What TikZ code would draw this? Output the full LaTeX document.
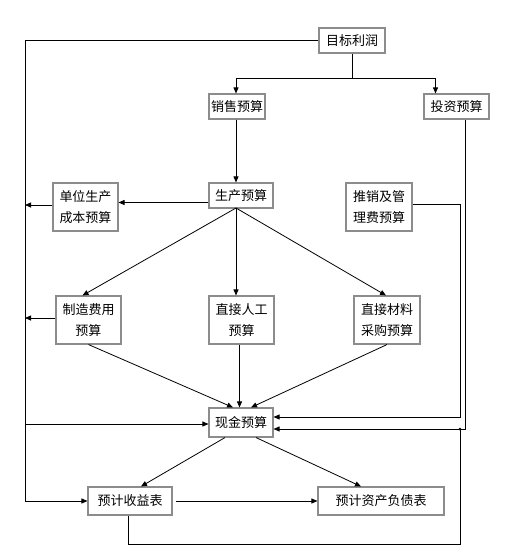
\documentclass[tikz,border=0pt]{standalone}
\usepackage{fontspec}
\newfontfamily\cjk{Noto Sans CJK SC}
\usetikzlibrary{arrows.meta,calc}
\begin{document}
\begin{tikzpicture}[x=1pt,y=-1pt,
 box/.style={draw=black!45,line width=1.1pt,fill=white,inner sep=0pt,font=\cjk\fontsize{13}{20.5}\selectfont,align=center},
 ln/.style={line width=0.8pt},
 arr/.style={ln,-{Triangle[length=6pt,width=5pt]}}]
\useasboundingbox[fill=white] (0,0) rectangle (510,560);
\node[box,minimum width=66pt,minimum height=25pt] (mb) at (352,40.5) {目标利润};
\node[box,minimum width=56pt,minimum height=25pt] (xs) at (237,106.5) {销售预算};
\node[box,minimum width=65pt,minimum height=25pt] (tz) at (456.5,106.5) {投资预算};
\node[box,minimum width=64pt,minimum height=25pt] (sc) at (241,195.5) {生产预算};
\node[box,minimum width=65pt,minimum height=48pt] (dw) at (85.5,207) {单位生产\\成本预算};
\node[box,minimum width=66pt,minimum height=48pt] (tx) at (379,207) {推销及管\\理费预算};
\node[box,minimum width=65pt,minimum height=48pt] (zz) at (88.5,320) {制造费用\\预算};
\node[box,minimum width=65pt,minimum height=48pt] (rg) at (241.5,320) {直接人工\\预算};
\node[box,minimum width=66pt,minimum height=48pt] (cl) at (387,320) {直接材料\\采购预算};
\node[box,minimum width=64pt,minimum height=29pt] (xj) at (241,422.5) {现金预算};
\node[box,minimum width=84pt,minimum height=28pt] (sy) at (130,501) {预计收益表};
\node[box,minimum width=126pt,minimum height=28pt] (zc) at (381,501) {预计资产负债表};
\coordinate (j1) at (352,78);
\coordinate (lx) at (25,0);
\coordinate (rx) at (460,0);
\coordinate (p) at (236,208);
% top
\draw[ln] (mb.south) -- (j1);
\draw[arr] (j1) -| ([xshift=-1pt]xs.north);
\draw[arr] (j1) -| ([xshift=-21pt]tz.north);
\draw[arr] (mb.west) -- (mb.west -| lx) |- (sy.west);
\draw[arr] ([xshift=-1pt]xs.south) -- ([xshift=-1pt]xs.south |- sc.north);
\draw[arr] ([yshift=-7pt]sc.west) -- ([yshift=-7pt]sc.west -| dw.east);
\draw[arr] ([yshift=2pt]dw.west) -- ([yshift=2pt]dw.west -| lx);
\draw[arr] ([yshift=2pt]zz.west) -- ([yshift=2pt]zz.west -| lx);
\draw[arr] ([yshift=-1.5pt]xj.west -| lx) -- ([yshift=-1.5pt]xj.west);
% production fan
\draw[arr] (p) -- ([xshift=-6pt]zz.north);
\draw[arr] (p) -- (p |- rg.north);
\draw[arr] (p) -- ([xshift=-1pt]cl.north);
% into cash
\draw[arr] (zz.south) -- ([xshift=-8pt]xj.north);
\draw[arr] ([xshift=-2pt]rg.south) -- ([xshift=-2pt]rg.south |- xj.north);
\draw[arr] (cl.south) -- ([xshift=10pt]xj.north);
% right side
\draw[arr] ([yshift=3pt]tx.east) -| ([yshift=5.5pt]xj.east -| rx) -- ([yshift=5.5pt]xj.east);
\draw[arr] ([xshift=8.5pt]tz.south) |- ([yshift=-6.5pt]xj.east);
\draw[ln] ([xshift=-2pt]sy.south) -- ++(0,29) -| ([yshift=-6.5pt]xj.east -| rx);
\fill ([yshift=-6.5pt]xj.east -| rx) circle (1.5pt);
% bottom
\draw[arr] ([xshift=-16pt]xj.south) -- ([xshift=11pt]sy.north);
\draw[arr] ([xshift=15pt]xj.south) -- ([xshift=-20pt]zc.north);
\draw[arr] ([xshift=3pt]sy.east) -- (zc.west);
\end{tikzpicture}
\end{document}
